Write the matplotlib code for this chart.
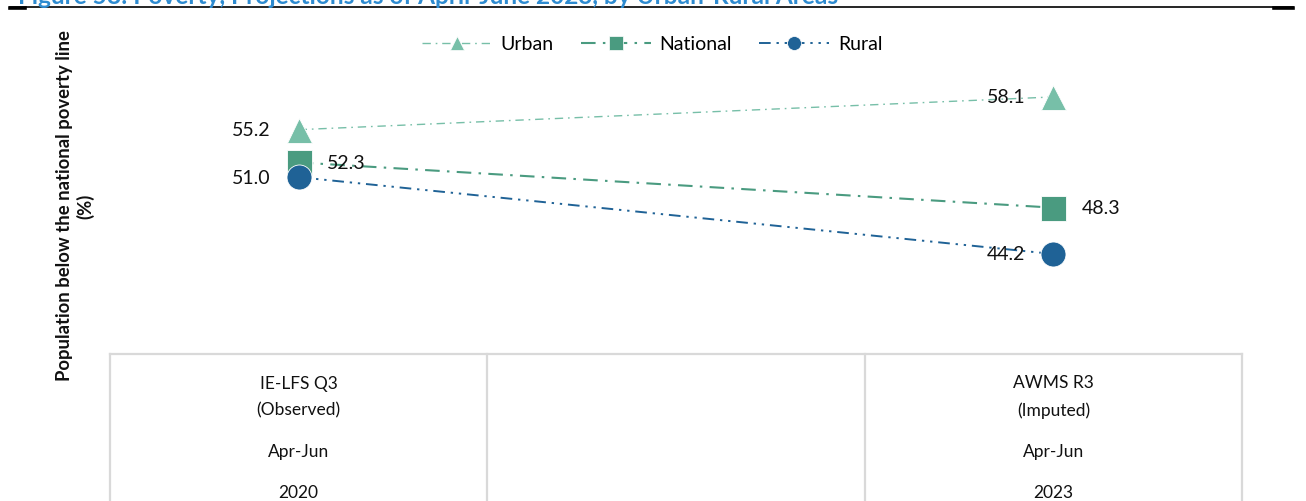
import matplotlib
matplotlib.use("Agg")
import matplotlib.pyplot as plt
from matplotlib import font_manager
from matplotlib.lines import Line2D
from matplotlib.transforms import blended_transform_factory

# ---- data -------------------------------------------------------------
sources = ["IE-LFS Q3\n(Observed)", "", "AWMS R3\n(Imputed)"]
periods = ["Apr-Jun", "", "Apr-Jun"]
years = ["2020", "", "2023"]
point_idx = [0, 2]  # categories that carry values

series_names = ["Urban", "National", "Rural"]
urban = [55.2, 58.1]
national = [52.3, 48.3]
rural = [51.0, 44.2]

title = "Figure 58: Poverty, Projections as of April-June 2023, by Urban-Rural Areas"
ylabel = "Population below the national poverty line\n(%)"

# ---- fonts ------------------------------------------------------------
installed = {f.name for f in font_manager.fontManager.ttflist}
main_font = "Lato" if "Lato" in installed else "DejaVu Sans"
narrow_font = "Liberation Sans Narrow" if "Liberation Sans Narrow" in installed else main_font
plt.rcParams["font.family"] = [main_font, "DejaVu Sans"]

W, H = 1306, 502
fig = plt.figure(figsize=(W / 100, H / 100), dpi=100)

def fx(px):
    return px / W

def fy(py):
    return 1 - py / H

# plot area
left, right, top, bottom = 110, 1242, 16, 355
ax = fig.add_axes([fx(left), fy(bottom), fx(right - left), (bottom - top) / H])
ax.set_xlim(-0.5, len(sources) - 0.5)
ax.set_ylim(35.35, 65.35)
ax.set_xticks([])
ax.set_yticks([])
for s in ["top", "right", "left"]:
    ax.spines[s].set_visible(False)
ax.spines["bottom"].set_color("#D9D9D9")
ax.spines["bottom"].set_linewidth(1.6)

colors = {"Urban": "#77BFA8", "National": "#4A9B80", "Rural": "#1F6296"}
markers = {"Urban": "^", "National": "s", "Rural": "o"}
styles = {
    "Urban": (0, (6, 3.5, 1.2, 3.5)),
    "National": (0, (7, 3.5, 1.2, 3.5)),
    "Rural": (0, (6, 3, 1.2, 3, 1.2, 3)),
}
widths = {"Urban": 1.0, "National": 1.5, "Rural": 1.4}
values = {"Urban": urban, "National": national, "Rural": rural}

for name in series_names:
    ax.plot(point_idx, values[name], color=colors[name], linestyle=styles[name],
            linewidth=widths[name], dash_capstyle="butt", zorder=2)
    ax.plot(point_idx, values[name], linestyle="none", marker=markers[name],
            markersize=18, color=colors[name], markeredgecolor="white",
            markeredgewidth=0.6, zorder=3, clip_on=False)

# value labels: side of the marker for each point (left = -1, right = +1)
label_side = {"Urban": [-1, -1], "National": [1, 1], "Rural": [-1, -1]}
for name in series_names:
    for x, v, side in zip(point_idx, values[name], label_side[name]):
        ax.annotate(f"{v:.1f}", (x, v), xytext=(side * 28, 0),
                    textcoords="offset pixels", ha="left" if side > 0 else "right",
                    va="center", fontsize=14, color="#111111", zorder=4)

# legend
handles = [Line2D([0], [0], color=colors[n], linestyle=styles[n], linewidth=widths[n],
                  marker=markers[n], markersize=10, markeredgecolor="white",
                  markeredgewidth=0.5) for n in series_names]
fig.legend(handles, series_names, loc="center", bbox_to_anchor=(fx(652), fy(45)),
           ncol=3, frameon=False, fontsize=14, handlelength=3.6, handletextpad=0.45,
           columnspacing=1.4)

# category table below the axis
trans = blended_transform_factory(ax.transData, fig.transFigure)
for b in [i - 0.5 for i in range(len(sources) + 1)]:
    ax.add_line(Line2D([b, b], [fy(355), fy(H + 5)], transform=trans, color="#D9D9D9",
                       linewidth=1.6, clip_on=False))
cat_font = dict(fontsize=12.5, family=[narrow_font, "DejaVu Sans"], color="#111111",
                ha="center", va="center", transform=trans)
for i, (src, per, yr) in enumerate(zip(sources, periods, years)):
    ax.text(i, fy(397), src, linespacing=1.8, **cat_font)
    ax.text(i, fy(452), per, **cat_font)
    ax.text(i, fy(493), yr, **cat_font)

# y-axis title
fig.text(fx(75), fy(206), ylabel, rotation=90, ha="center", va="center",
         multialignment="center", fontsize=13.3, fontweight="bold", color="#111111")

# figure caption (partly above the top edge) and rule below it
fig.text(fx(18), fy(3.5), title, ha="left", va="baseline", fontsize=17.6,
         fontweight="bold", color="#2E8BD0")
fig.add_artist(Line2D([fx(10), fx(1293)], [fy(8), fy(8)], color="black", linewidth=1.2))
fig.add_artist(Line2D([fx(10), fx(25)], [fy(8.5), fy(8.5)], color="black", linewidth=2.6))
fig.add_artist(Line2D([fx(1274), fx(1293)], [fy(8.5), fy(8.5)], color="black", linewidth=2.6))

fig.savefig("out.png", dpi=100)
